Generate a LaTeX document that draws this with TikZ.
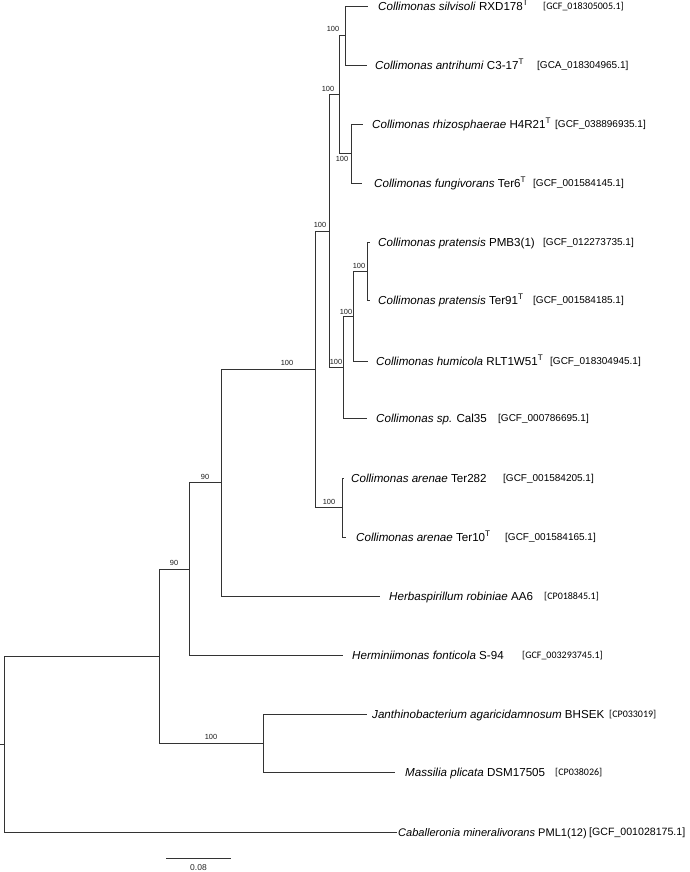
\documentclass[tikz,border=0pt]{standalone}
\usepackage{fontspec}
\setmainfont{Liberation Sans}
\newfontfamily\calfont{Carlito}
\begin{document}
\begin{tikzpicture}[x=1pt,y=-1pt,
  branch/.style={draw=black!80, line width=0.9pt},
  taxon/.style={anchor=base west, inner sep=0pt, font=\fontsize{11.6}{13}\selectfont, yshift=-4.15pt},
  acc/.style={anchor=base west, inner sep=0pt, font=\fontsize{10}{12}\selectfont, yshift=-3.6pt},
  accc/.style={anchor=base west, inner sep=0pt, font=\calfont\fontsize{10}{12}\selectfont, yshift=-3.2pt},
  boot/.style={inner sep=0pt, font=\fontsize{7.4}{8}\selectfont, text=black!90},
]
\useasboundingbox (0,0) rectangle (689,872);

% internal nodes of the tree (x of the vertical bar, y of its middle)
\coordinate (stub) at (0,744.5);
\coordinate (R)    at (4.7,744.5);
\coordinate (N1)   at (159,656);
\coordinate (N2)   at (189,569);
\coordinate (N3)   at (221,482.5);
\coordinate (Coll) at (315,369);
\coordinate (D)    at (329,231.5);
\coordinate (B)    at (339,94.5);
\coordinate (A)    at (345,35.5);
\coordinate (C)    at (351,153.5);
\coordinate (G)    at (343,367);
\coordinate (F)    at (353,316);
\coordinate (E)    at (367,271);
\coordinate (Ar)   at (342,507.5);
\coordinate (J)    at (263,743);

% leaves (end of each terminal branch)
\coordinate (tSil)  at (368,6);
\coordinate (tAnt)  at (367,65);
\coordinate (tRhi)  at (363,124);
\coordinate (tFun)  at (362,183);
\coordinate (tPMB)  at (370,242);
\coordinate (tT91)  at (370,300);
\coordinate (tHum)  at (368,361);
\coordinate (tCal)  at (367,418);
\coordinate (tT282) at (344,478);
\coordinate (tT10)  at (346,537);
\coordinate (tHer)  at (380,596);
\coordinate (tHmi)  at (343,655);
\coordinate (tJan)  at (367,714);
\coordinate (tMas)  at (395,772);
\coordinate (tCab)  at (397,832);

% branches
\draw[branch] (stub) -- (R);
\draw[branch] (R) |- (N1);  \draw[branch] (R) |- (tCab);
\draw[branch] (N1) |- (N2); \draw[branch] (N1) |- (J);
\draw[branch] (N2) |- (N3); \draw[branch] (N2) |- (tHmi);
\draw[branch] (N3) |- (Coll); \draw[branch] (N3) |- (tHer);
\draw[branch] (Coll) |- (D); \draw[branch] (Coll) |- (Ar);
\draw[branch] (D) |- (B); \draw[branch] (D) |- (G);
\draw[branch] (B) |- (A); \draw[branch] (B) |- (C);
\draw[branch] (A) |- (tSil); \draw[branch] (A) |- (tAnt);
\draw[branch] (C) |- (tRhi); \draw[branch] (C) |- (tFun);
\draw[branch] (G) |- (F); \draw[branch] (G) |- (tCal);
\draw[branch] (F) |- (E); \draw[branch] (F) |- (tHum);
\draw[branch] (E) |- (tPMB); \draw[branch] (E) |- (tT91);
\draw[branch] (Ar) |- (tT282); \draw[branch] (Ar) |- (tT10);
\draw[branch] (J) |- (tJan); \draw[branch] (J) |- (tMas);

% bootstrap support values
\node[boot] (bA)    at (333,29)  {100};
\node[boot] (bB)    at (328,89)  {100};
\node[boot] (bC)    at (342,159) {100};
\node[boot] (bD)    at (320,225) {100};
\node[boot] (bE)    at (359,266) {100};
\node[boot] (bF)    at (346,312) {100};
\node[boot] (bG)    at (336,362) {100};
\node[boot] (bAr)   at (329,502) {100};
\node[boot] (bColl) at (287,363) {100};
\node[boot] (bN3)   at (205,477) {90};
\node[boot] (bN2)   at (174,563) {90};
\node[boot] (bJ)    at (211,737) {100};

% taxon names
\node[taxon] (nSil)  at (378,6)   {\textit{Collimonas silvisoli} RXD178\textsuperscript{T}};
\node[taxon] (nAnt)  at (375,65)  {\textit{Collimonas antrihumi} C3-17\textsuperscript{T}};
\node[taxon] (nRhi)  at (372,124) {\textit{Collimonas rhizosphaerae} H4R21\textsuperscript{T}};
\node[taxon] (nFun)  at (374,183) {\textit{Collimonas fungivorans} Ter6\textsuperscript{T}};
\node[taxon] (nPMB)  at (378,242) {\textit{Collimonas pratensis} PMB3(1)};
\node[taxon] (nT91)  at (378,300) {\textit{Collimonas pratensis} Ter91\textsuperscript{T}};
\node[taxon] (nHum)  at (376,361) {\textit{Collimonas humicola} RLT1W51\textsuperscript{T}};
\node[taxon] (nCal)  at (376,418) {\textit{Collimonas sp.} Cal35};
\node[taxon] (nT282) at (351,478) {\textit{Collimonas arenae} Ter282};
\node[taxon] (nT10)  at (356,537) {\textit{Collimonas arenae} Ter10\textsuperscript{T}};
\node[taxon] (nHer)  at (389,596) {\textit{Herbaspirillum robiniae} AA6};
\node[taxon] (nHmi)  at (352,655) {\textit{Herminiimonas fonticola} S-94};
\node[taxon] (nJan)  at (372,714) {\textit{Janthinobacterium agaricidamnosum} BHSEK};
\node[taxon] (nMas)  at (405,772) {\textit{Massilia plicata} DSM17505};
\node[taxon, font=\fontsize{11.05}{13}\selectfont] (nCab) at (398,832) {\textit{Caballeronia mineralivorans} PML1(12)};

% accession numbers
\node[accc] (aSil)  at (543,6)   {[GCF\_018305005.1]};
\node[acc]  (aAnt)  at (537,65)  {[GCA\_018304965.1]};
\node[acc]  (aRhi)  at (555,124) {[GCF\_038896935.1]};
\node[acc]  (aFun)  at (533,183) {[GCF\_001584145.1]};
\node[acc]  (aPMB)  at (543,242) {[GCF\_012273735.1]};
\node[acc]  (aT91)  at (533,300) {[GCF\_001584185.1]};
\node[acc]  (aHum)  at (550,361) {[GCF\_018304945.1]};
\node[acc]  (aCal)  at (498,418) {[GCF\_000786695.1]};
\node[acc]  (aT282) at (503,478) {[GCF\_001584205.1]};
\node[acc]  (aT10)  at (505,537) {[GCF\_001584165.1]};
\node[accc] (aHer)  at (544,596) {[CP018845.1]};
\node[accc] (aHmi)  at (522,655) {[GCF\_003293745.1]};
\node[accc] (aJan)  at (609,714) {[CP033019]};
\node[accc] (aMas)  at (555,772) {[CP038026]};
\node[acc, font=\fontsize{10.6}{12}\selectfont] (aCab) at (589,832) {[GCF\_001028175.1]};

% scale bar
\coordinate (sL) at (166,858);
\coordinate (sR) at (231,858);
\draw[branch] (sL) -- (sR);
\node[inner sep=0pt, font=\fontsize{8.5}{10}\selectfont, text=black!85] (sLab) at (198.5,868) {0.08};
\end{tikzpicture}
\end{document}
